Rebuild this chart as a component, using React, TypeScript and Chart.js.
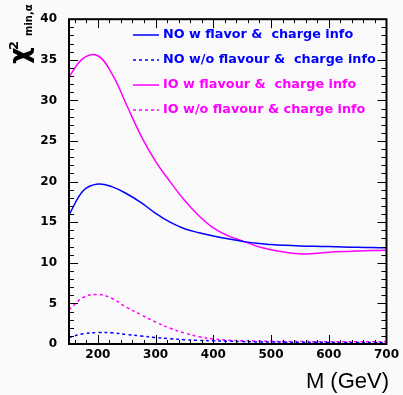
import React, { useEffect, useRef } from 'react';
import { Chart, registerables } from 'chart.js';

Chart.register(...registerables);

// ---- data ----
const MASS = [150, 175, 200, 225, 250, 275, 300, 325, 350, 375, 400, 425, 450, 475, 500, 525, 550, 575, 600, 625, 650, 675, 700];
const NO_W = [15.9, 18.9, 19.7, 19.35, 18.5, 17.4, 16.1, 15.0, 14.2, 13.7, 13.3, 12.95, 12.65, 12.4, 12.25, 12.15, 12.08, 12.03, 12.0, 11.95, 11.9, 11.87, 11.85];
const NO_WO = [0.8, 1.27, 1.4, 1.38, 1.17, 0.98, 0.8, 0.65, 0.53, 0.45, 0.4, 0.35, 0.3, 0.26, 0.24, 0.23, 0.22, 0.21, 0.2, 0.2, 0.2, 0.2, 0.2];
const IO_W = [32.9, 35.2, 35.5, 33.2, 29.4, 25.6, 22.5, 20.0, 17.7, 15.8, 14.3, 13.35, 12.7, 12.05, 11.6, 11.3, 11.1, 11.15, 11.3, 11.4, 11.45, 11.5, 11.55];
const IO_WO = [4.2, 5.75, 6.1, 5.6, 4.5, 3.6, 2.7, 1.95, 1.35, 0.9, 0.62, 0.47, 0.4, 0.36, 0.33, 0.31, 0.3, 0.29, 0.28, 0.28, 0.27, 0.27, 0.27];

const LABELS = [
  'NO w flavor &  charge info',
  'NO w/o flavour &  charge info',
  'IO w flavour &  charge info',
  'IO w/o flavour & charge info',
];
const X_TICKS = [200, 300, 400, 500, 600, 700];
const Y_TICKS = [0, 5, 10, 15, 20, 25, 30, 35, 40];
const X_TITLE = 'M (GeV)';

const BLUE = '#0000ff';
const MAGENTA = '#ff00ff';

const pts = (ys: number[]) => MASS.map((x, i) => ({ x, y: ys[i] }));

const decorPlugin = {
  id: 'decor',
  beforeDraw(chart: any) {
    const ctx = chart.ctx;
    ctx.save();
    ctx.fillStyle = '#fafafa';
    ctx.fillRect(0, 0, chart.width, chart.height);
    ctx.restore();
  },
  afterDraw(chart: any) {
    const ctx = chart.ctx;
    const { left, right, top, bottom } = chart.chartArea;
    const xs = chart.scales.x;
    const ys = chart.scales.y;
    ctx.save();
    ctx.strokeStyle = '#000';
    // ticks
    ctx.lineWidth = 1;
    ctx.beginPath();
    for (let v = 0; v <= 40; v += 1) {
      const py = Math.round(ys.getPixelForValue(v)) + 0.5;
      const len = v % 5 === 0 ? 9 : 5;
      ctx.moveTo(left, py); ctx.lineTo(left + len, py);
      ctx.moveTo(right, py); ctx.lineTo(right - len, py);
    }
    for (let v = 160; v <= 700; v += 20) {
      const px = Math.round(xs.getPixelForValue(v)) + 0.5;
      const len = v % 100 === 0 ? 9 : 4;
      ctx.moveTo(px, bottom); ctx.lineTo(px, bottom - len);
      ctx.moveTo(px, top); ctx.lineTo(px, top + len);
    }
    ctx.stroke();
    // frame
    ctx.lineWidth = 2;
    ctx.strokeRect(left, top, right - left, bottom - top);

    // legend
    const rows = [35, 60, 85, 110];
    chart.data.datasets.forEach((ds: any, i: number) => {
      const y = rows[i];
      ctx.strokeStyle = ds.borderColor;
      ctx.lineWidth = 1.5;
      ctx.setLineDash(ds.borderDash || []);
      ctx.beginPath();
      ctx.moveTo(133, y); ctx.lineTo(159, y);
      ctx.stroke();
      ctx.setLineDash([]);
      ctx.fillStyle = ds.borderColor;
      ctx.font = 'bold 12.8px "DejaVu Sans"';
      ctx.textBaseline = 'alphabetic';
      ctx.textAlign = 'left';
      ctx.fillText(ds.label, 163, y + 2.5);
    });

    // x title
    ctx.fillStyle = '#000';
    ctx.font = '22px "Liberation Sans"';
    ctx.textAlign = 'right';
    ctx.textBaseline = 'alphabetic';
    ctx.fillText(X_TITLE, 389, 388);

    // y title (rotated)
    ctx.translate(0, 64);
    ctx.rotate(-Math.PI / 2);
    ctx.textAlign = 'left';
    ctx.font = 'bold 26px "DejaVu Sans"';
    ctx.fillText('χ', 0, 28);
    ctx.font = 'bold 13px "DejaVu Sans"';
    ctx.fillText('2', 14, 18);
    ctx.font = 'bold 10px "DejaVu Sans"';
    ctx.fillText('min,α', 28, 32);
    ctx.restore();
  },
};

export default function App() {
  const ref = useRef<HTMLCanvasElement | null>(null);
  useEffect(() => {
    document.body.style.margin = '0';
    document.body.style.background = '#fafafa';
    const canvas = ref.current!;
    const mk = (label: string, data: number[], color: string, dash?: number[]) => ({
      label,
      data: pts(data),
      borderColor: color,
      backgroundColor: color,
      borderWidth: 1.5,
      borderDash: dash,
      pointRadius: 0,
      fill: false,
      tension: 0.4,
    });
    const chart = new Chart(canvas, {
      type: 'line',
      data: {
        datasets: [
          mk(LABELS[0], NO_W, BLUE),
          mk(LABELS[1], NO_WO, BLUE, [3, 3]),
          mk(LABELS[2], IO_W, MAGENTA),
          mk(LABELS[3], IO_WO, MAGENTA, [3, 3]),
        ],
      },
      options: {
        responsive: false,
        animation: false,
        devicePixelRatio: 1,
        layout: { padding: { top: 12, right: 14, left: 0, bottom: 0 } },
        plugins: { legend: { display: false }, tooltip: { enabled: false } },
        scales: {
          x: {
            type: 'linear',
            min: 150,
            max: 700,
            border: { display: false },
            grid: { display: true, drawOnChartArea: false, drawTicks: false },
            afterBuildTicks: (s: any) => { s.ticks = X_TICKS.map((value) => ({ value })); },
            afterFit: (s: any) => { s.height = 51; },
            ticks: {
              padding: 4,
              color: '#000',
              font: { family: 'DejaVu Sans', weight: 'bold', size: 12 },
              maxRotation: 0,
              autoSkip: false,
            },
          },
          y: {
            type: 'linear',
            min: 0,
            max: 40,
            border: { display: false },
            grid: { display: true, drawOnChartArea: false, drawTicks: false },
            afterBuildTicks: (s: any) => { s.ticks = Y_TICKS.map((value) => ({ value })); },
            afterFit: (s: any) => { s.width = 69; },
            ticks: {
              padding: 12,
              color: '#000',
              font: { family: 'DejaVu Sans', weight: 'bold', size: 12 },
              autoSkip: false,
            },
          },
        },
      },
      plugins: [decorPlugin],
    });
    return () => chart.destroy();
  }, []);
  return <canvas ref={ref} width={403} height={395} style={{ display: 'block', width: 403, height: 395 }} />;
}
